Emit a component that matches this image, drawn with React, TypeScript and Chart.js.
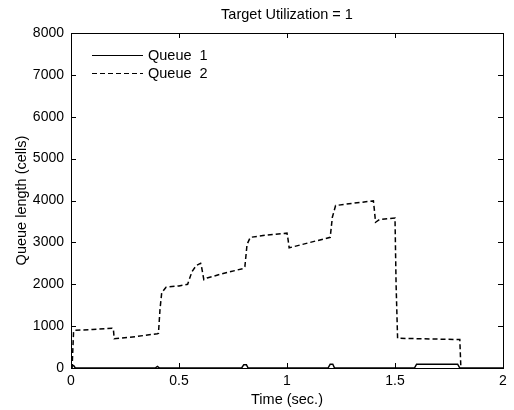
import React, { useEffect, useRef } from "react";
import { Chart, registerables } from "chart.js";

Chart.register(...registerables);

const titleText = "Target Utilization = 1";
const xAxisTitle = "Time (sec.)";
const yAxisTitle = "Queue length (cells)";
const seriesLabels = ["Queue  1", "Queue  2"];

const xTickValues = [0, 0.5, 1, 1.5, 2];
const yTickValues = [0, 1000, 2000, 3000, 4000, 5000, 6000, 7000, 8000];

const queue1Time = [0, 0.006, 0.012, 0.02, 0.39, 0.4, 0.41, 0.79, 0.8, 0.812, 0.82, 1.19, 1.2, 1.212, 1.22, 1.59, 1.6, 1.79, 1.8, 2];
const queue1Len = [0, 60, 60, 0, 0, 40, 0, 0, 80, 80, 0, 0, 90, 90, 0, 0, 90, 90, 0, 0];

const queue2Time = [0, 0.005, 0.012, 0.02, 0.1, 0.19, 0.196, 0.2, 0.3, 0.4, 0.405, 0.412, 0.42, 0.44, 0.5, 0.54, 0.56, 0.58, 0.6, 0.605, 0.615, 0.63, 0.7, 0.8, 0.805, 0.815, 0.83, 0.9, 1.0, 1.004, 1.01, 1.1, 1.2, 1.21, 1.225, 1.3, 1.4, 1.404, 1.41, 1.43, 1.5, 1.505, 1.512, 1.6, 1.8, 1.805];
const queue2Len = [0, 0, 880, 900, 920, 950, 940, 700, 750, 820, 830, 1400, 1800, 1930, 1960, 2000, 2300, 2450, 2500, 2400, 2110, 2150, 2250, 2380, 2420, 2950, 3120, 3170, 3220, 3100, 2870, 2990, 3120, 3600, 3880, 3930, 3990, 3800, 3480, 3550, 3580, 2000, 710, 700, 680, 0];

const FONT = "'Liberation Sans', Arial, Helvetica, sans-serif";
const TEXT_SIZE = 14.5;
const TICK_SIZE = 14;

const framePlugin = {
  id: "matlabFrame",
  afterDraw(chart: any) {
    const { ctx, chartArea, scales } = chart;
    const { left, right, top, bottom } = chartArea;
    ctx.save();
    ctx.strokeStyle = "#000";
    ctx.lineWidth = 1;
    ctx.setLineDash([]);
    ctx.strokeRect(Math.round(left) + 0.5, Math.round(top) + 0.5, Math.round(right - left), Math.round(bottom - top));
    const tl = 5;
    ctx.beginPath();
    for (const v of xTickValues) {
      const px = Math.round(scales.x.getPixelForValue(v)) + 0.5;
      ctx.moveTo(px, bottom);
      ctx.lineTo(px, bottom - tl);
      ctx.moveTo(px, top);
      ctx.lineTo(px, top + tl);
    }
    for (const v of yTickValues) {
      const py = Math.round(scales.y.getPixelForValue(v)) + 0.5;
      ctx.moveTo(left, py);
      ctx.lineTo(left + tl, py);
      ctx.moveTo(right, py);
      ctx.lineTo(right - tl, py);
    }
    ctx.stroke();

    // title centred over plot area
    ctx.fillStyle = "#000";
    ctx.font = `${TEXT_SIZE}px ${FONT}`;
    ctx.textAlign = "center";
    ctx.textBaseline = "middle";
    ctx.fillText(titleText, (left + right) / 2, 15);

    // legend
    const ds = chart.data.datasets;
    const rows = [ds[1], ds[0]];
    const ys = [55, 73];
    rows.forEach((d: any, i: number) => {
      const y = ys[i] + 0.5;
      ctx.beginPath();
      ctx.lineWidth = 1.2;
      ctx.setLineDash(d.borderDash || []);
      ctx.moveTo(left + 21, y);
      ctx.lineTo(left + 72, y);
      ctx.stroke();
      ctx.setLineDash([]);
      ctx.textAlign = "left";
      ctx.textBaseline = "middle";
      ctx.fillText(d.label, left + 77, y);
    });
    ctx.restore();
  },
};

export default function App() {
  const canvasRef = useRef<HTMLCanvasElement | null>(null);

  useEffect(() => {
    if (!canvasRef.current) return;
    const chart = new Chart(canvasRef.current, {
      type: "line",
      data: {
        datasets: [
          {
            label: seriesLabels[1],
            data: queue2Time.map((t, i) => ({ x: t, y: queue2Len[i] })),
            borderColor: "#000",
            borderWidth: 1.5,
            borderDash: [5, 3],
            pointRadius: 0,
            fill: false,
            tension: 0,
          },
          {
            label: seriesLabels[0],
            data: queue1Time.map((t, i) => ({ x: t, y: queue1Len[i] })),
            borderColor: "#000",
            borderWidth: 1.5,
            pointRadius: 0,
            fill: false,
            tension: 0,
          },
        ],
      },
      options: {
        responsive: false,
        animation: false,
        devicePixelRatio: 1,
        layout: { padding: { top: 33, right: 11, left: 0, bottom: 0 } },
        plugins: {
          legend: { display: false },
          title: { display: false },
          tooltip: { enabled: false },
        },
        scales: {
          x: {
            type: "linear",
            min: 0,
            max: 2,
            afterFit: (s: any) => {
              s.height = 42;
            },
            afterBuildTicks: (s: any) => {
              s.ticks = xTickValues.map((v) => ({ value: v }));
            },
            grid: { display: false, drawTicks: false },
            border: { display: false },
            ticks: {
              color: "#000",
              padding: 5,
              maxRotation: 0,
              font: { family: FONT, size: TICK_SIZE },
              callback: (v: any) => String(v),
            },
            title: {
              display: true,
              text: xAxisTitle,
              color: "#000",
              font: { family: FONT, size: TEXT_SIZE },
              padding: { top: 0, bottom: 1 },
            },
          },
          y: {
            type: "linear",
            min: 0,
            max: 8000,
            afterFit: (s: any) => {
              s.width = 71;
            },
            afterBuildTicks: (s: any) => {
              s.ticks = yTickValues.map((v) => ({ value: v }));
            },
            grid: { display: false, drawTicks: false },
            border: { display: false },
            ticks: {
              color: "#000",
              padding: 7,
              font: { family: FONT, size: TICK_SIZE },
              callback: (v: any) => String(v),
            },
            title: {
              display: true,
              text: yAxisTitle,
              color: "#000",
              font: { family: FONT, size: TEXT_SIZE },
              padding: { top: 13, bottom: 0 },
            },
          },
        },
      },
      plugins: [framePlugin],
    });
    return () => chart.destroy();
  }, []);

  return (
    <div style={{ position: "fixed", left: 0, top: 0, width: 514, height: 410, background: "#fff" }}>
      <canvas ref={canvasRef} width={514} height={410} />
    </div>
  );
}
